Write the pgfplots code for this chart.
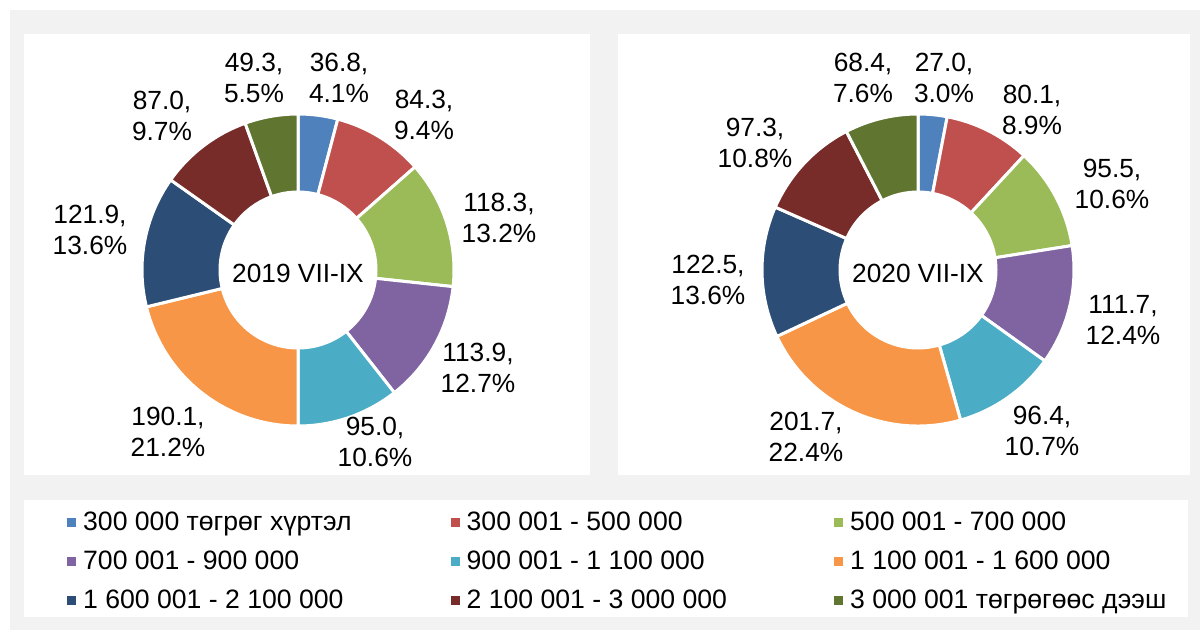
\documentclass[border=0pt]{standalone}
\usepackage{fontspec}
\setmainfont{Liberation Sans}
\usepackage{pgfplots}
\usepackage{pgfplotstable}
\pgfplotsset{compat=1.18}
\definecolor{c0}{HTML}{4F81BD}
\definecolor{c1}{HTML}{C0504D}
\definecolor{c2}{HTML}{9BBB59}
\definecolor{c3}{HTML}{8064A2}
\definecolor{c4}{HTML}{4BACC6}
\definecolor{c5}{HTML}{F79646}
\definecolor{c6}{HTML}{2C4D75}
\definecolor{c7}{HTML}{772C2A}
\definecolor{c8}{HTML}{5F7530}
\definecolor{bg}{HTML}{F2F2F2}

\pgfplotstableread{
v
36.8
84.3
118.3
113.9
95.0
190.1
121.9
87.0
49.3
}\dataA
\pgfplotstableread{
v
27.0
80.1
95.5
111.7
96.4
201.7
122.5
97.3
68.4
}\dataB

\newcount\sliceidx
\newcommand\computeangles[2]{%
  \gdef\gtot{0}%
  \pgfplotstableforeachcolumnelement{v}\of#1\as\val{%
    \pgfmathparse{\gtot+\val}\xdef\gtot{\pgfmathresult}}%
  \gdef\gcum{0}%
  \global\sliceidx=0
  \pgfplotstableforeachcolumnelement{v}\of#1\as\val{%
    \pgfmathparse{90-360*(\gcum/\gtot)}%
    \expandafter\xdef\csname #2-\the\sliceidx-s\endcsname{\pgfmathresult}%
    \pgfmathparse{\gcum+\val}\xdef\gcum{\pgfmathresult}%
    \pgfmathparse{90-360*(\gcum/\gtot)}%
    \expandafter\xdef\csname #2-\the\sliceidx-e\endcsname{\pgfmathresult}%
    \global\advance\sliceidx by 1
  }%
}
\computeangles{\dataA}{A}
\computeangles{\dataB}{B}

\newcommand\lab{\fontsize{26.3}{31}\selectfont}

\begin{document}
\begin{tikzpicture}
\fill[white] (0pt,0pt) rectangle (1200pt,630pt);
\fill[bg] (10pt,0pt) rectangle (1200pt,620pt);
\fill[white] (24pt,155pt) rectangle (590pt,596pt);
\fill[white] (618pt,155pt) rectangle (1190pt,596pt);
\fill[white] (24pt,13pt) rectangle (1188pt,130pt);
\begin{axis}[at={(0pt,0pt)}, anchor=south west, x=1pt, y=1pt,
  xmin=0, xmax=1200, ymin=0, ymax=630, hide axis, clip=false,
  legend columns=3, legend cell align=left,
  legend image code/.code={\fill[#1] (0pt,-4.5pt) rectangle (9pt,4.5pt);},
  legend style={at={(0.055833,0.20206)}, anchor=north west, draw=none, fill=none,
    inner sep=0pt, font=\fontsize{26.6}{39}\selectfont,
    nodes={inner sep=0pt, text height=27.3pt, text depth=11.7pt},
    /tikz/every odd column/.style={column sep=7pt},
    /tikz/every even column/.style={column sep=0pt}}]

\pgfplotsinvokeforeach{0,...,8}{%
  \edef\doslice{\noexpand\filldraw[fill=c#1, draw=white, line width=3pt, line join=round]
    (axis cs:298,360) ++(\csname A-#1-s\endcsname:156pt)
    arc[start angle=\csname A-#1-s\endcsname, end angle=\csname A-#1-e\endcsname, radius=156pt]
    -- ++(\csname A-#1-e\endcsname:-78pt)
    arc[start angle=\csname A-#1-e\endcsname, end angle=\csname A-#1-s\endcsname, radius=78pt]
    -- cycle;}\doslice
  \edef\doslice{\noexpand\filldraw[fill=c#1, draw=white, line width=3pt, line join=round]
    (axis cs:918,360) ++(\csname B-#1-s\endcsname:156pt)
    arc[start angle=\csname B-#1-s\endcsname, end angle=\csname B-#1-e\endcsname, radius=156pt]
    -- ++(\csname B-#1-e\endcsname:-78pt)
    arc[start angle=\csname B-#1-e\endcsname, end angle=\csname B-#1-s\endcsname, radius=78pt]
    -- cycle;}\doslice
}

\node[font=\lab] at (axis cs:298,357) {2019 VII-IX};
\node[font=\lab] at (axis cs:918,357) {2020 VII-IX};

\node[align=center, font=\lab] at (axis cs:339,552) {36.8,\\4.1\%};
\node[align=center, font=\lab] at (axis cs:424,515) {84.3,\\9.4\%};
\node[align=center, font=\lab] at (axis cs:499,412) {118.3,\\13.2\%};
\node[align=center, font=\lab] at (axis cs:478,262) {113.9,\\12.7\%};
\node[align=center, font=\lab] at (axis cs:375,188) {95.0,\\10.6\%};
\node[align=center, font=\lab] at (axis cs:168,198) {190.1,\\21.2\%};
\node[align=center, font=\lab] at (axis cs:90,400) {121.9,\\13.6\%};
\node[align=center, font=\lab] at (axis cs:162,514) {87.0,\\9.7\%};
\node[align=center, font=\lab] at (axis cs:254,552) {49.3,\\5.5\%};

\node[align=center, font=\lab] at (axis cs:944,552) {27.0,\\3.0\%};
\node[align=center, font=\lab] at (axis cs:1032,520) {80.1,\\8.9\%};
\node[align=center, font=\lab] at (axis cs:1112,446) {95.5,\\10.6\%};
\node[align=center, font=\lab] at (axis cs:1123,310) {111.7,\\12.4\%};
\node[align=center, font=\lab] at (axis cs:1042,199) {96.4,\\10.7\%};
\node[align=center, font=\lab] at (axis cs:806,193) {201.7,\\22.4\%};
\node[align=center, font=\lab] at (axis cs:708,350) {122.5,\\13.6\%};
\node[align=center, font=\lab] at (axis cs:755,487) {97.3,\\10.8\%};
\node[align=center, font=\lab] at (axis cs:863,552) {68.4,\\7.6\%};

\addlegendimage{fill=c0, draw=none}\addlegendentry{\makebox[367.5pt][l]{300 000 төгрөг хүртэл}}
\addlegendimage{fill=c1, draw=none}\addlegendentry{\makebox[367.5pt][l]{300 001 - 500 000}}
\addlegendimage{fill=c2, draw=none}\addlegendentry{500 001 - 700 000}
\addlegendimage{fill=c3, draw=none}\addlegendentry{\makebox[367.5pt][l]{700 001 - 900 000}}
\addlegendimage{fill=c4, draw=none}\addlegendentry{\makebox[367.5pt][l]{900 001 - 1 100 000}}
\addlegendimage{fill=c5, draw=none}\addlegendentry{1 100 001 - 1 600 000}
\addlegendimage{fill=c6, draw=none}\addlegendentry{\makebox[367.5pt][l]{1 600 001 - 2 100 000}}
\addlegendimage{fill=c7, draw=none}\addlegendentry{\makebox[367.5pt][l]{2 100 001 - 3 000 000}}
\addlegendimage{fill=c8, draw=none}\addlegendentry{3 000 001 төгрөгөөс дээш}
\end{axis}
\end{tikzpicture}
\end{document}
